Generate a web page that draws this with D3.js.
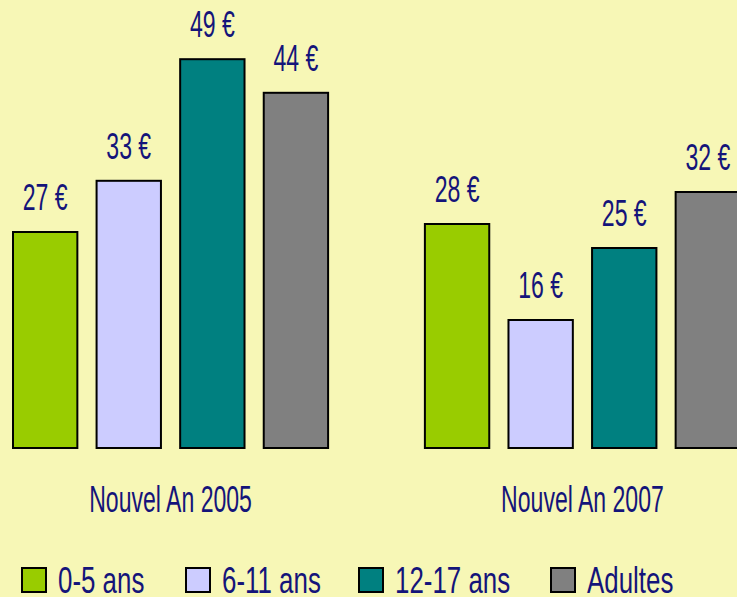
<!DOCTYPE html>
<html>
<head>
<meta charset="utf-8">
<script src="https://cdn.jsdelivr.net/npm/d3@7"></script>
<style>
  html, body { margin: 0; padding: 0; background: #F7F7B6; }
  svg { display: block; }
  text { font-family: "Liberation Sans", sans-serif; fill: #14147A; }
</style>
</head>
<body>
<div id="chart"></div>
<script>
// donnees
var groups = ["Nouvel An 2005", "Nouvel An 2007"];
var series = ["0-5 ans", "6-11 ans", "12-17 ans", "Adultes"];
var values2005 = [27, 33.4, 48.6, 44.4];
var values2007 = [28, 16, 25, 32];
var colors = ["#99CC00", "#CCCCFF", "#008080", "#808080"];

var width = 737, height = 597;
var squeeze = 0.64; // police etroite

var svg = d3.select("#chart").append("svg")
    .attr("width", width).attr("height", height);

svg.append("rect").attr("width", width).attr("height", height).attr("fill", "#F7F7B6");

var x0 = d3.scaleBand().domain(groups).range([13, 740]).paddingInner(0.235).paddingOuter(0);
var x1 = d3.scaleBand().domain(series).range([0, x0.bandwidth()]).paddingInner(0.23).paddingOuter(0);
var y = d3.scaleLinear().domain([0, 50]).range([448, 48]);

var color = d3.scaleOrdinal().domain(series).range(colors);

var rows = groups.map(function(g, i) {
    var vals = i === 0 ? values2005 : values2007;
    return { group: g, items: series.map(function(s, j) { return { serie: s, value: vals[j] }; }) };
});

var g = svg.selectAll("g.groupe").data(rows).enter().append("g")
    .attr("class", "groupe")
    .attr("transform", function(d) { return "translate(" + x0(d.group) + ",0)"; });

g.selectAll("rect").data(function(d) { return d.items; }).enter().append("rect")
    .attr("x", function(d) { return x1(d.serie); })
    .attr("y", function(d) { return y(d.value); })
    .attr("width", x1.bandwidth())
    .attr("height", function(d) { return y(0) - y(d.value); })
    .attr("fill", function(d) { return color(d.serie); })
    .attr("stroke", "#000").attr("stroke-width", 2);

g.selectAll("text.valeur").data(function(d) { return d.items; }).enter().append("text")
    .attr("class", "valeur")
    .attr("text-anchor", "middle")
    .attr("font-size", 36)
    .attr("transform", function(d) {
        return "translate(" + (x1(d.serie) + x1.bandwidth() / 2) + "," + (y(d.value) - 22) + ") scale(" + squeeze + ",1)";
    })
    .text(function(d) { return Math.round(d.value) + " €"; });

// libelles des groupes
svg.selectAll("text.groupe").data(groups).enter().append("text")
    .attr("class", "groupe")
    .attr("text-anchor", "middle")
    .attr("font-size", 36)
    .attr("transform", function(d) { return "translate(" + (x0(d) + x0.bandwidth() / 2) + ",512) scale(" + squeeze + ",1)"; })
    .text(function(d) { return d; });

// legende
var legendX = [22, 186, 359, 551];
var leg = svg.selectAll("g.legende").data(series).enter().append("g")
    .attr("class", "legende")
    .attr("transform", function(d, i) { return "translate(" + legendX[i] + ",568)"; });

leg.append("rect")
    .attr("width", 24).attr("height", 24)
    .attr("fill", function(d) { return color(d); })
    .attr("stroke", "#000").attr("stroke-width", 2);

leg.append("text")
    .attr("font-size", 37)
    .attr("transform", "translate(36,25) scale(0.7,1)")
    .text(function(d) { return d; });
</script>
</body>
</html>
